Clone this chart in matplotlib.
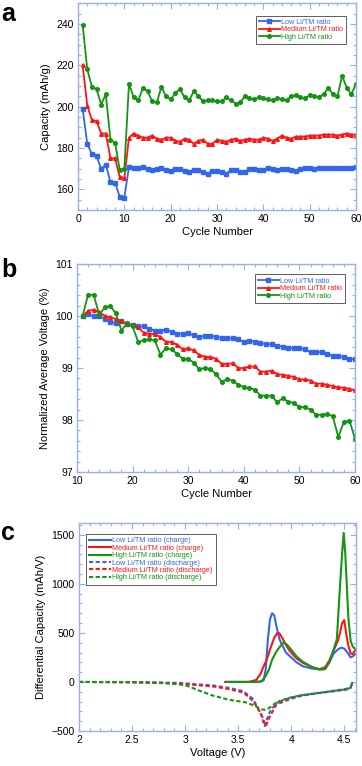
import matplotlib
matplotlib.use("Agg")
import matplotlib.pyplot as plt
from matplotlib.ticker import MultipleLocator

plt.rcParams['font.family'] = ['Liberation Sans', 'DejaVu Sans']

# --- colores ---
c_low = '#3366f0'
c_med = '#ff1414'
c_high = '#129612'
c_axis = '#9aaef2'

# --- panel a: capacidad vs ciclo ---
ciclos_a = list(range(1, 61))
cap_low = [199, 182, 177, 176, 170, 172, 163.5, 163, 156.5, 156,
           171, 170.5, 170.5, 171, 170, 169.5, 170, 170.5, 169.5, 169,
           170, 170, 169, 168.5, 169.5, 169.5, 168.5, 167.5, 169, 169,
           168.5, 167.5, 169.5, 169.5, 168.5, 168.5, 170, 170, 169.5, 169.5,
           170.5, 170, 169.5, 170, 170, 169.5, 169, 170, 170.5, 170.5,
           170, 170.5, 170.5, 170.5, 170.5, 170.5, 170.5, 170.5, 170.5, 171]
cap_med = [220, 200.5, 193.5, 193, 187, 187, 175, 175, 166, 165.5,
           185, 187, 186, 185, 185, 186, 184.5, 184, 185, 185,
           183.5, 183, 184.5, 184, 182, 183.5, 184, 182, 182, 184,
           183.5, 183, 184, 184.5, 183.5, 184, 184.5, 184, 184, 185,
           184.5, 183.5, 184.5, 186, 185, 184.5, 185.5, 185.5, 185.5, 186,
           186, 186, 186.5, 186.5, 186.5, 186, 186.5, 187, 186.5, 186.5]
cap_high = [239.5, 218, 209.5, 208.5, 201, 206, 184, 182.5, 169.5, 170,
            211, 204.5, 203, 209, 207.5, 202.5, 202, 209.5, 205, 203.5,
            206.5, 208.5, 204.5, 203, 207.5, 205, 202.5, 203, 203, 202.5,
            202.5, 204.5, 203, 201.5, 202, 205, 204, 203.5, 204.5, 204,
            203.5, 203, 204, 203.5, 203, 205, 205.5, 204.5, 204, 205.5,
            205, 204.5, 206, 209, 206, 205, 215, 209, 206, 211]

# --- panel b: voltaje promedio normalizado ---
ciclos_b = list(range(11, 61))
volt_low = [100, 100.03, 100, 100, 99.95, 99.88, 99.87, 99.9, 99.85, 99.82,
            99.8, 99.8, 99.76, 99.72, 99.72, 99.74, 99.7, 99.66, 99.66, 99.67,
            99.63, 99.6, 99.62, 99.62, 99.6, 99.58, 99.57, 99.57, 99.55, 99.5,
            99.52, 99.51, 99.48, 99.46, 99.46, 99.43, 99.41, 99.39, 99.38, 99.38,
            99.36, 99.3, 99.31, 99.3, 99.27, 99.24, 99.23, 99.22, 99.18, 99.17]
volt_med = [100, 100.1, 100.12, 100.08, 100, 99.98, 99.94, 99.9, 99.85, 99.82,
            99.78, 99.68, 99.66, 99.65, 99.6, 99.5, 99.5, 99.45, 99.36, 99.38,
            99.34, 99.25, 99.22, 99.21, 99.18, 99.08, 99.08, 99.09, 99, 99,
            99.03, 99.03, 98.93, 98.93, 98.95, 98.88, 98.87, 98.85, 98.83, 98.78,
            98.78, 98.76, 98.7, 98.7, 98.68, 98.65, 98.63, 98.62, 98.6, 98.57]
volt_high = [100, 100.41, 100.41, 100.02, 100.17, 100.19, 100.05, 99.72, 99.86, 99.8,
             99.5, 99.53, 99.55, 99.53, 99.26, 99.38, 99.36, 99.27, 99.18, 99.18,
             99.1, 98.98, 99.0, 98.98, 98.88, 98.74, 98.78, 98.76, 98.68, 98.63,
             98.62, 98.58, 98.47, 98.47, 98.47, 98.34, 98.42, 98.35, 98.33, 98.25,
             98.25, 98.2, 98.1, 98.1, 98.12, 98.07, 97.67, 97.97, 97.99, 97.64]

# --- panel c: capacidad diferencial ---
v_low_ch = [3.38, 3.60, 3.70, 3.74, 3.76, 3.78, 3.80, 3.82, 3.84, 3.86, 3.89, 3.95,
            3.99, 4.05, 4.11, 4.20, 4.27, 4.32, 4.36, 4.40, 4.44, 4.47, 4.50, 4.53,
            4.56, 4.58, 4.60]
q_low_ch = [0, 0, 2, 15, 130, 434, 637, 700, 680, 570, 434, 300,
            260, 200, 160, 135, 130, 145, 200, 290, 330, 350, 340, 300,
            250, 260, 280]
v_med_ch = [3.38, 3.60, 3.67, 3.71, 3.74, 3.77, 3.80, 3.84, 3.87, 3.89, 3.92, 3.96,
            3.99, 4.05, 4.11, 4.20, 4.27, 4.32, 4.36, 4.40, 4.44, 4.46, 4.48, 4.50,
            4.52, 4.54, 4.56, 4.58, 4.60]
q_med_ch = [0, 0, 20, 80, 160, 227, 330, 450, 500, 495, 440, 360,
            310, 240, 195, 150, 130, 150, 220, 320, 420, 500, 600, 630,
            480, 366, 290, 285, 320]
v_high_ch = [3.40, 3.65, 3.72, 3.76, 3.79, 3.82, 3.86, 3.90, 3.93, 3.96, 4.00, 4.05,
             4.11, 4.20, 4.27, 4.32, 4.36, 4.40, 4.43, 4.46, 4.48, 4.495, 4.51, 4.53,
             4.54, 4.56, 4.58, 4.60]
q_high_ch = [0, 0, 5, 60, 125, 227, 310, 370, 400, 380, 330, 260,
             205, 150, 125, 130, 200, 330, 434, 977, 1315, 1520, 1300, 850,
             640, 420, 360, 340]
v_low_dis = [2.0, 2.5, 2.95, 3.27, 3.42, 3.55, 3.64, 3.71, 3.74, 3.75, 3.77, 3.81,
             3.89, 3.99, 4.10, 4.27, 4.40, 4.52, 4.56, 4.58]
q_low_dis = [0, -2, -10, -37, -61, -95, -173, -315, -417, -450, -383, -278,
             -193, -160, -135, -110, -92, -75, -60, 0]
v_med_dis = [2.0, 2.5, 2.95, 3.27, 3.42, 3.55, 3.64, 3.72, 3.76, 3.80, 3.86, 3.99,
             4.10, 4.27, 4.40, 4.52, 4.56, 4.58]
q_med_dis = [0, -3, -17, -47, -74, -108, -193, -332, -450, -350, -230, -173,
             -140, -112, -95, -78, -60, 0]
v_high_dis = [2.0, 2.5, 2.76, 2.95, 3.02, 3.14, 3.27, 3.42, 3.58, 3.67, 3.71, 3.76,
              3.80, 3.86, 3.99, 4.10, 4.27, 4.40, 4.52, 4.56, 4.58]
q_high_dis = [0, -3, -7, -25, -40, -91, -142, -183, -210, -250, -278, -285,
              -260, -210, -162, -135, -112, -90, -71, -50, 0]

nombres = ['Low Li/TM ratio', 'Medium Li/TM ratio', 'High Li/TM ratio']
colores = [c_low, c_med, c_high]
marcadores = ['s', '^', 'o']


def estilo_ejes(ax, xmaj, xmin, ymaj, ymin):
    for s in ax.spines.values():
        s.set_color(c_axis)
        s.set_linewidth(1.0)
    ax.xaxis.set_major_locator(MultipleLocator(xmaj))
    ax.xaxis.set_minor_locator(MultipleLocator(xmin))
    ax.yaxis.set_major_locator(MultipleLocator(ymaj))
    ax.yaxis.set_minor_locator(MultipleLocator(ymin))
    ax.tick_params(which='both', direction='in', top=True, right=True,
                   color=c_axis, labelsize=7.5, labelcolor='black', pad=3)
    ax.tick_params(which='major', length=4, width=0.8)
    ax.tick_params(which='minor', length=2, width=0.8)


def leyenda(ax, loc, anchor, size, hl):
    leg = ax.legend(loc=loc, bbox_to_anchor=anchor, fontsize=size,
                    labelcolor='linecolor', frameon=True, fancybox=False,
                    handlelength=hl, handletextpad=0.2, labelspacing=0.05,
                    borderpad=0.45, borderaxespad=0)
    leg.get_frame().set_edgecolor('#333333')
    leg.get_frame().set_linewidth(0.7)
    return leg


fig = plt.figure(figsize=(3.62, 7.66), dpi=100)

# --- a ---
ax1 = fig.add_axes([0.2155, 0.7258, 0.768, 0.270])
for ys, c, m, n in zip([cap_low, cap_med, cap_high], colores, marcadores, nombres):
    ax1.plot(ciclos_a, ys, color=c, marker=m, markersize=2.6, lw=1.3, label=n)
ax1.set_xlim(0, 60)
ax1.set_ylim(150, 250)
estilo_ejes(ax1, 10, 2, 20, 5)
ax1.set_xlabel('Cycle Number', fontsize=8, labelpad=2)
ax1.set_ylabel('Capacity (mAh/g)', fontsize=8, labelpad=4)
leyenda(ax1, 'upper right', (0.965, 0.94), 5.2, 2.8)

# --- b ---
ax2 = fig.add_axes([0.2127, 0.3838, 0.768, 0.2715])
for ys, c, m, n in zip([volt_low, volt_med, volt_high], colores, marcadores, nombres):
    ax2.plot(ciclos_b, ys, color=c, marker=m, markersize=2.6, lw=1.3, label=n)
ax2.set_xlim(10, 60)
ax2.set_ylim(97, 101)
estilo_ejes(ax2, 10, 2, 1, 0.2)
ax2.set_xlabel('Cycle Number', fontsize=8, labelpad=2)
ax2.set_ylabel('Normalized Average Voltage (%)', fontsize=8, labelpad=4)
leyenda(ax2, 'upper right', (0.965, 0.95), 5.2, 2.8)

# --- c ---
ax3 = fig.add_axes([0.2182, 0.0457, 0.765, 0.2715])
carga = [(v_low_ch, q_low_ch), (v_med_ch, q_med_ch), (v_high_ch, q_high_ch)]
descarga = [(v_low_dis, q_low_dis), (v_med_dis, q_med_dis), (v_high_dis, q_high_dis)]
for (v, q), c, n in zip(carga, colores, nombres):
    ax3.plot(v, q, color=c, lw=1.5, label=n + ' (charge)')
for (v, q), c, n in zip(descarga, colores, nombres):
    ax3.plot(v, q, color=c, lw=1.5, ls=(0, (2, 1.2)), label=n + ' (discharge)')
ax3.set_xlim(2, 4.61)
ax3.set_ylim(-500, 1620)
estilo_ejes(ax3, 0.5, 0.1, 500, 100)
ax3.set_xticks([2, 2.5, 3, 3.5, 4, 4.5])
ax3.set_xticklabels(['2', '2.5', '3', '3.5', '4', '4.5'])
ax3.set_xlabel('Voltage (V)', fontsize=8, labelpad=2)
ax3.set_ylabel('Differential Capacity (mAh/V)', fontsize=8, labelpad=4)
leyenda(ax3, 'upper left', (0.025, 0.947), 5.2, 3.0)

# --- letras de panel ---
fig.text(0.004, 0.997, 'a', fontsize=18, fontweight='bold', va='top')
fig.text(0.004, 0.663, 'b', fontsize=18, fontweight='bold', va='top')
fig.text(0.004, 0.320, 'c', fontsize=18, fontweight='bold', va='top')

fig.savefig('out.png', dpi=100)
